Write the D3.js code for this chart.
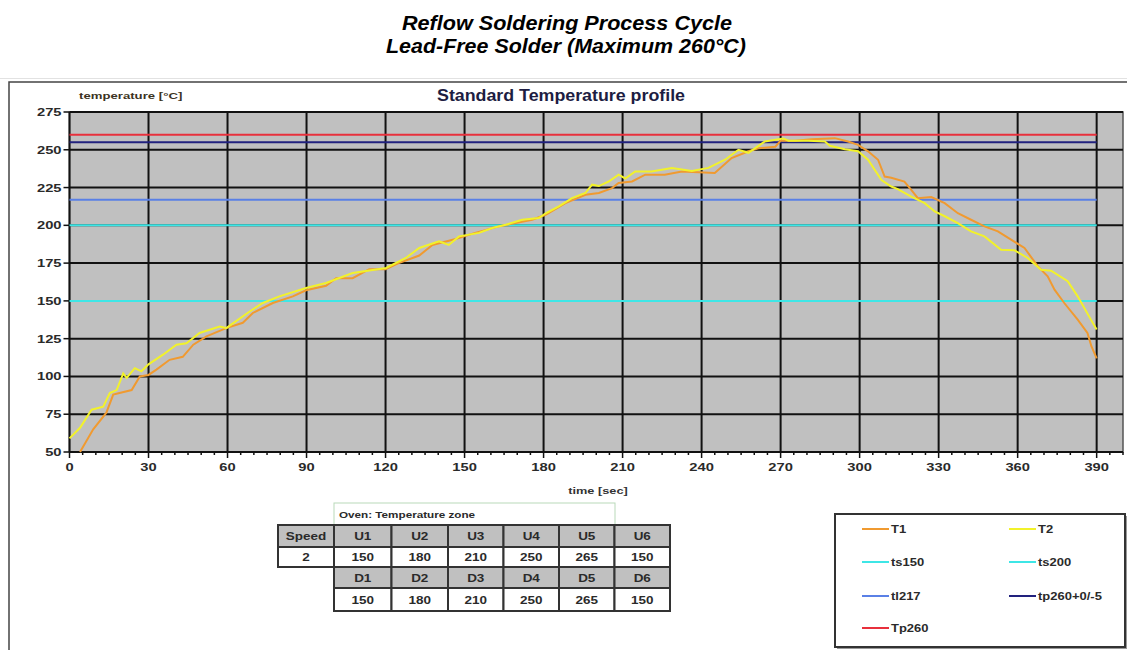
<!DOCTYPE html>
<html lang="en">
<head>
<meta charset="UTF-8">
<title>Reflow Soldering Process Cycle</title>
<style>
  body { margin: 0; background: #fff; }
  svg text { font-family: 'Liberation Sans', Arial, sans-serif; }
</style>
</head>
<body>
<svg id="chart" width="1127" height="650"></svg>
<script src="https://d3js.org/d3.v7.min.js"></script>
<script>
// data
const t1Time = [4, 9, 14, 16.6, 19, 23.6, 26.7, 30, 33, 38, 43, 47, 52, 59.5, 65.8, 69.6, 77.2, 84.8, 89.8, 97.4,
  101.2, 107.5, 113.8, 120, 125, 132.8, 137.8, 146.6, 154, 163, 175.7, 180.8, 188.3, 195.9, 201, 206, 208.5, 213.6,
  218.6, 226, 232.5, 245, 251.4, 257.8, 261.6, 268, 270, 275.5, 281.8, 290.6, 295.6, 299.4, 303.2, 307, 309.5, 312,
  317, 319.6, 322.1, 327.2, 332.3, 337.3, 342.3, 347.4, 352.5, 357.5, 362.6, 367.7, 371.4, 374, 377.7, 382.8, 386.5,
  388, 390];
const t1Temp = [50, 65, 76, 88, 89, 91, 100, 101, 104.5, 111, 113, 121, 126.5, 132, 135.5, 142, 148.6, 153, 157, 160,
  165, 165, 171, 171, 175, 180, 187, 191, 195, 199.3, 203.7, 207, 214.7, 220.2, 221.4, 224.6, 228, 229,
  233.5, 233.5, 235.6, 234.6, 244.5, 249, 251, 252, 256, 256, 257, 257.7, 255.5, 253.3, 249, 243.4, 232.3, 231.5,
  229, 223.5, 218, 218.7, 214.7, 208, 203.7, 199.3, 196, 190.5, 185, 172.8, 166.2, 157.4, 148.6, 137.6, 128.8,
  120, 112];

const t2Time = [0, 4, 8.4, 12.8, 15.3, 17.9, 20.4, 21.7, 24.8, 27.3, 30, 35.5, 40.6, 44.4, 49.4, 57, 59.5, 68.4, 73.4,
  79.7, 89.8, 97.4, 107.5, 120.2, 127.7, 132.8, 140.3, 144, 147.9, 155.5, 160.5, 165.6, 171.9, 178.2, 180.8, 185.8,
  190.8, 195.9, 198.4, 201, 204.7, 208.5, 211, 214.8, 221, 228.7, 236.3, 242.6, 248.9, 254, 257.8, 264, 271, 273,
  280.5, 286.8, 288.7, 294.4, 299.4, 303.2, 308.3, 312, 314.5, 319.6, 324.7, 328.5, 332.3, 337.3, 342.3, 347.4,
  353.7, 358.8, 363.8, 368.9, 372.7, 379, 382.8, 387.8, 390];
const t2Temp = [59, 66, 78, 80, 89, 91, 102, 99, 105.5, 103.4, 108, 114.4, 121, 122, 128.8, 133, 132, 143, 148.6,
  153, 158.5, 161.8, 168.4, 171.8, 178.4, 185, 189.4, 187, 192.7, 195, 198.2, 200.4, 203.7, 204.8, 208, 212.5,
  218, 221.4, 226.9, 226, 229, 233.5, 231, 235.6, 235.6, 237.9, 236, 238, 243.4, 250, 248, 255.5, 257.5, 256,
  256, 255.5, 252.6, 250.4, 249, 243.4, 230, 225.7, 224, 219, 214.7, 209.2, 206, 201.5, 196, 192.7,
  183.9, 183.5, 178.4, 170.6, 170, 163, 153, 137.6, 131];

const refNames = ["ts150", "ts200", "tl217", "tp260+0/-5", "Tp260"];
const refValues = [150, 200, 217, 255, 260];
const refColors = ["#3ee6e6", "#3ee6e6", "#5a80e6", "#22227e", "#e8303c"];

const xTicks = [0, 30, 60, 90, 120, 150, 180, 210, 240, 270, 300, 330, 360, 390];
const yTicks = [50, 75, 100, 125, 150, 175, 200, 225, 250, 275];

const zoneUpper = ["U1", "U2", "U3", "U4", "U5", "U6"];
const zoneUpperTemp = [150, 180, 210, 250, 265, 150];
const zoneLower = ["D1", "D2", "D3", "D4", "D5", "D6"];
const zoneLowerTemp = [150, 180, 210, 250, 265, 150];
const speed = 2;

const svg = d3.select("#chart");

const x = d3.scaleLinear().domain([0, 400]).range([69.5, 1123]);
const y = d3.scaleLinear().domain([50, 275]).range([452, 112]);

// stretched bold label like the low-res original
function label(g, px, py, str, opts = {}) {
  const sx = opts.sx || 1.4;
  return g.append("text")
    .attr("transform", `translate(${px},${py}) scale(${sx},1)`)
    .attr("text-anchor", opts.anchor || "start")
    .attr("font-size", opts.size || 10)
    .attr("font-weight", "bold")
    .attr("fill", opts.fill || "#2a2a2a")
    .text(str);
}

// page title
const title = svg.append("g").attr("font-style", "italic").attr("font-weight", "bold")
  .attr("font-size", 21).attr("text-anchor", "middle");
title.append("text").attr("x", 567).attr("y", 30)
  .attr("textLength", 330).attr("lengthAdjust", "spacingAndGlyphs")
  .text("Reflow Soldering Process Cycle");
title.append("text").attr("x", 566).attr("y", 53)
  .attr("textLength", 360).attr("lengthAdjust", "spacingAndGlyphs")
  .text("Lead-Free Solder (Maximum 260°C)");

// chart frame
svg.append("line").attr("x1", 0).attr("x2", 1127).attr("y1", 78.5).attr("y2", 78.5)
  .attr("stroke", "#e2e2e2");
svg.append("rect").attr("x", 9).attr("y", 82).attr("width", 1140).attr("height", 600)
  .attr("fill", "#fff").attr("stroke", "#444").attr("stroke-width", 1.5);

svg.append("text").attr("x", 561).attr("y", 101).attr("text-anchor", "middle")
  .attr("font-size", 16).attr("font-weight", "bold").attr("fill", "#1d1d42")
  .attr("textLength", 248).attr("lengthAdjust", "spacingAndGlyphs")
  .text("Standard Temperature profile");

// plot area
svg.append("rect")
  .attr("x", x(0)).attr("y", y(275))
  .attr("width", x(400) - x(0)).attr("height", y(50) - y(275))
  .attr("fill", "#c0c0c0").attr("stroke", "#555").attr("stroke-width", 1.5);

const grid = svg.append("g").attr("stroke", "#111").attr("stroke-width", 2);
grid.selectAll(".vg").data(xTicks).enter().append("line")
  .attr("x1", d => x(d)).attr("x2", d => x(d))
  .attr("y1", y(275)).attr("y2", y(50));
grid.selectAll(".hg").data(yTicks).enter().append("line")
  .attr("x1", x(0)).attr("x2", x(400))
  .attr("y1", d => y(d)).attr("y2", d => y(d));

// axis tick marks
const ticks = svg.append("g").attr("stroke", "#111").attr("stroke-width", 1.5);
ticks.selectAll(".mx").data(d3.range(0, 401, 5)).enter().append("line")
  .attr("x1", d => x(d)).attr("x2", d => x(d))
  .attr("y1", y(50)).attr("y2", d => y(50) + (d % 30 === 0 ? 6 : 3));
ticks.selectAll(".my").data(yTicks).enter().append("line")
  .attr("x1", x(0) - 6).attr("x2", x(0))
  .attr("y1", d => y(d)).attr("y2", d => y(d));

const labels = svg.append("g");
xTicks.forEach(d => label(labels, x(d), 471, d, { anchor: "middle", size: 10.5 }));
yTicks.forEach(d => label(labels, x(0) - 8, y(d) + 4, d, { anchor: "end", size: 10.5 }));
label(labels, 79, 99, "temperature [°C]", { size: 8.5, sx: 1.55, fill: "#3b3222" });
label(labels, 598, 494, "time [sec]", { anchor: "middle", size: 8.5, sx: 1.5, fill: "#333" });

// reference lines
svg.append("g").selectAll("line").data(refValues).enter().append("line")
  .attr("x1", x(0)).attr("x2", x(390))
  .attr("y1", d => y(d)).attr("y2", d => y(d))
  .attr("stroke", (d, i) => refColors[i]).attr("stroke-width", 2);

// temperature curves
const line = d3.line().x(d => x(d[0])).y(d => y(d[1]));
svg.append("path").datum(d3.zip(t1Time, t1Temp))
  .attr("d", line).attr("fill", "none").attr("stroke", "#f09a30").attr("stroke-width", 2);
svg.append("path").datum(d3.zip(t2Time, t2Temp))
  .attr("d", line).attr("fill", "none").attr("stroke", "#f2f22a").attr("stroke-width", 2);

// oven zone table
const colX = [278, 334, 391.5, 448, 503.5, 559, 614.5, 670];
const rowY = [525, 547, 567, 588, 611];
const table = svg.append("g");
table.append("rect").attr("x", 334).attr("y", 503).attr("width", 281).attr("height", 22)
  .attr("fill", "#fff").attr("stroke", "#b9d9b9");
label(table, 339, 518, "Oven: Temperature zone", { size: 9, sx: 1.3 });

function cell(c, r, txt, grey) {
  table.append("rect")
    .attr("x", colX[c]).attr("y", rowY[r])
    .attr("width", colX[c + 1] - colX[c]).attr("height", rowY[r + 1] - rowY[r])
    .attr("fill", grey ? "#c0c0c0" : "#fff").attr("stroke", "#333").attr("stroke-width", 2);
  label(table, (colX[c] + colX[c + 1]) / 2, (rowY[r] + rowY[r + 1]) / 2 + 4, txt,
    { anchor: "middle", size: 10, sx: 1.35 });
}
cell(0, 0, "Speed", true);
cell(0, 1, speed, false);
zoneUpper.forEach((d, i) => cell(i + 1, 0, d, true));
zoneUpperTemp.forEach((d, i) => cell(i + 1, 1, d, false));
zoneLower.forEach((d, i) => cell(i + 1, 2, d, true));
zoneLowerTemp.forEach((d, i) => cell(i + 1, 3, d, false));

// legend
const legendNames = ["T1", "T2"].concat(refNames);
const legendColors = ["#f09a30", "#f2f22a"].concat(refColors);
const legend = svg.append("g");
legend.append("rect").attr("x", 837).attr("y", 516).attr("width", 290).attr("height", 133)
  .attr("fill", "#999");
legend.append("rect").attr("x", 835).attr("y", 514).attr("width", 290).attr("height", 133)
  .attr("fill", "#fff").attr("stroke", "#333").attr("stroke-width", 2);
const legRows = [529, 562, 596, 628];
legendNames.forEach((name, i) => {
  const col = i % 2, row = Math.floor(i / 2);
  const lx = col === 0 ? 862 : 1009;
  legend.append("line").attr("x1", lx).attr("x2", lx + 27)
    .attr("y1", legRows[row]).attr("y2", legRows[row])
    .attr("stroke", legendColors[i]).attr("stroke-width", 2);
  label(legend, lx + 29, legRows[row] + 4, name, { size: 10, sx: 1.3 });
});
</script>
</body>
</html>
